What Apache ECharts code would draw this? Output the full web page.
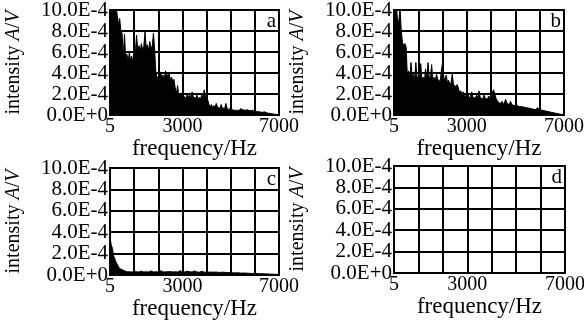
<!DOCTYPE html>
<html>
<head>
<meta charset="utf-8">
<script src="https://cdn.jsdelivr.net/npm/echarts@6/dist/echarts.min.js"></script>
<style>
  html, body { margin: 0; padding: 0; background: #fff; }
  #chart { width: 584px; height: 326px; }
</style>
</head>
<body>
<div id="chart"></div>
<script>
// spectra sampled every 50 Hz from 0 to 7000 Hz, intensity in units of 1E-4 V
var STEP = 50
var xTickLabels = { 0: '5', 3000: '3000', 7000: '7000' }
var panelLetters = ['a', 'b', 'c', 'd']

var spectrumA = [
  10.5, 10.5, 10.2, 10.5, 9.8, 10.3, 9.5, 8.6, 9.2, 8.0,
  7.8, 5.6, 7.7, 5.4, 5.8, 5.0, 6.0, 5.2, 5.6, 5.0,
  6.3, 6.0, 7.6, 6.2, 6.6, 6.0, 6.8, 6.2, 6.5, 7.9,
  6.4, 6.7, 6.1, 7.0, 6.3, 6.6, 7.8, 6.2, 4.0, 3.6,
  3.7, 3.5, 4.1, 3.6, 3.8, 3.4, 4.2, 3.6, 3.5, 4.1,
  3.3, 3.6, 3.2, 3.4, 2.6, 2.0, 2.8, 1.8, 2.0, 1.7,
  2.2, 1.8, 1.9, 1.6, 2.0, 1.7, 1.9, 1.6, 2.2, 1.7,
  1.8, 1.6, 1.9, 1.5, 1.7, 1.5, 2.0, 1.6, 2.4, 1.8,
  1.7, 1.4, 1.0, 0.8, 1.0, 0.7, 0.9, 0.7, 1.1, 0.8,
  0.9, 0.6, 1.0, 0.7, 0.8, 0.6, 1.1, 0.6, 0.7, 0.5,
  0.8, 0.5, 0.6, 0.45, 0.6, 0.45, 0.55, 0.4, 0.6, 0.45,
  0.5, 0.4, 0.45, 0.35, 0.5, 0.35, 0.4, 0.3, 0.45, 0.3,
  0.35, 0.28, 0.32, 0.25, 0.3, 0.22, 0.25, 0.2, 0.3, 0.18,
  0.2, 0.15, 0.16, 0.12, 0.12, 0.1, 0.08, 0.06, 0.05, 0.03,
  0.02
]

var spectrumB = [
  10.5, 10.3, 10.5, 8.8, 9.0, 10.2, 8.0, 6.9, 6.6, 6.8,
  6.5, 3.7, 4.2, 3.5, 5.0, 3.6, 3.9, 3.4, 5.0, 3.5,
  3.7, 3.3, 4.9, 3.4, 3.6, 3.2, 4.4, 3.3, 5.0, 3.6,
  3.4, 4.8, 3.3, 3.6, 3.2, 3.9, 3.4, 3.5, 3.2, 4.2,
  5.0, 3.6, 3.3, 3.8, 3.1, 3.3, 2.9, 3.1, 3.9, 2.9,
  3.0, 2.7, 2.9, 2.6, 2.1, 2.3, 2.0, 2.2, 1.9, 1.8,
  1.7, 1.9, 1.6, 1.8, 2.2, 1.7, 1.8, 1.6, 1.9, 1.6,
  2.3, 1.7, 1.8, 1.5, 1.9, 1.6, 1.7, 1.5, 1.8, 1.6,
  1.9, 2.0, 2.4, 2.0, 1.6, 1.4, 1.2, 1.3, 1.1, 1.3,
  1.0, 1.2, 1.5, 1.1, 1.2, 1.0, 1.3, 1.0, 1.1, 0.9,
  1.0, 0.9, 1.0, 0.8, 0.9, 0.8, 0.85, 0.75, 0.8, 0.7,
  0.75, 0.65, 0.7, 0.6, 0.65, 0.55, 0.6, 0.5, 0.7, 0.75,
  0.5, 0.45, 0.45, 0.4, 0.4, 0.35, 0.35, 0.3, 0.3, 0.28,
  0.25, 0.22, 0.2, 0.17, 0.15, 0.12, 0.1, 0.08, 0.06, 0.04,
  0.02
]

var spectrumC = [
  3.6, 2.8, 2.5, 1.8, 1.5, 1.2, 1.0, 0.8, 0.6, 0.7,
  0.5, 0.45, 0.4, 0.35, 0.3, 0.4, 0.3, 0.32, 0.28, 0.35,
  0.3, 0.45, 0.3, 0.32, 0.28, 0.3, 0.35, 0.3, 0.28, 0.4,
  0.3, 0.32, 0.28, 0.3, 0.38, 0.3, 0.28, 0.32, 0.3, 0.35,
  0.28, 0.3, 0.4, 0.3, 0.28, 0.32, 0.3, 0.45, 0.3, 0.28,
  0.32, 0.3, 0.28, 0.35, 0.3, 0.32, 0.28, 0.3, 0.4, 0.28,
  0.3, 0.32, 0.28, 0.3, 0.35, 0.28, 0.3, 0.32, 0.28, 0.3,
  0.38, 0.3, 0.28, 0.3, 0.26, 0.3, 0.35, 0.28, 0.26, 0.3,
  0.28, 0.3, 0.26, 0.25, 0.28, 0.3, 0.26, 0.24, 0.28, 0.25,
  0.24, 0.3, 0.25, 0.24, 0.26, 0.22, 0.24, 0.25, 0.22, 0.2,
  0.24, 0.22, 0.2, 0.22, 0.2, 0.18, 0.2, 0.22, 0.18, 0.2,
  0.18, 0.17, 0.18, 0.16, 0.17, 0.18, 0.15, 0.16, 0.15, 0.14,
  0.15, 0.14, 0.13, 0.14, 0.12, 0.13, 0.12, 0.12, 0.11, 0.1,
  0.1, 0.1, 0.09, 0.09, 0.08, 0.08, 0.07, 0.07, 0.06, 0.05,
  0.05
]

var spectrumD = []

var spectra = [spectrumA, spectrumB, spectrumC, spectrumD]

var grids = [
  { left: 110, top: 10, width: 169, height: 105 },
  { left: 394, top: 10, width: 170, height: 105 },
  { left: 110, top: 168, width: 169, height: 107 },
  { left: 394, top: 166, width: 171, height: 107 }
]

var font = 'Liberation Serif'
var chart = echarts.init(document.getElementById('chart'))

var option = {
  backgroundColor: '#fff',
  animation: false,
  textStyle: { fontFamily: font },
  grid: grids.map(function(g) {
    return Object.assign({ show: true, borderColor: '#000', borderWidth: 2, containLabel: false, outerBoundsMode: 'none' }, g)
  }),
  xAxis: grids.map(function(g, i) {
    return {
      type: 'value',
      gridIndex: i,
      min: 0,
      max: 7000,
      interval: 1000,
      name: 'frequency/Hz',
      nameLocation: 'middle',
      nameGap: 16,
      nameTextStyle: { color: '#000', fontFamily: font, fontSize: 23 },
      axisLine: { show: false },
      axisTick: { show: false },
      splitLine: { show: true, lineStyle: { color: '#000', width: 2 } },
      axisLabel: {
        color: '#000',
        fontFamily: font,
        fontSize: 20,
        margin: 2,
        showMinLabel: true,
        showMaxLabel: true,
        hideOverlap: false,
        formatter: function(v) { return xTickLabels[v] || '' }
      }
    }
  }),
  yAxis: grids.map(function(g, i) {
    return {
      type: 'value',
      gridIndex: i,
      min: 0,
      max: 10,
      interval: 2,
      name: '{n|intensity }{i|A}{n|/}{i|V}',
      nameLocation: 'middle',
      nameGap: 86,
      nameRotate: 90,
      nameTextStyle: {
        color: '#000',
        rich: {
          n: { fontFamily: font, fontSize: 20, color: '#000' },
          i: { fontFamily: font, fontSize: 20, fontStyle: 'italic', color: '#000' }
        }
      },
      axisLine: { show: false },
      axisTick: { show: false },
      splitLine: { show: true, lineStyle: { color: '#000', width: 2 } },
      axisLabel: {
        color: '#000',
        fontFamily: font,
        fontSize: 21,
        lineHeight: 18,
        margin: 2,
        showMinLabel: true,
        showMaxLabel: true,
        hideOverlap: false,
        formatter: function(v) { return v === 0 ? '0.0E+0' : v.toFixed(1) + 'E-4' }
      }
    }
  }),
  series: spectra.map(function(vals, i) {
    return {
      type: 'line',
      xAxisIndex: i,
      yAxisIndex: i,
      data: vals.map(function(v, k) { return [k * STEP, v] }),
      symbol: 'none',
      clip: true,
      lineStyle: { color: '#000', width: 1 },
      areaStyle: { color: '#000', opacity: 1 }
    }
  }),
  graphic: grids.map(function(g, i) {
    return {
      type: 'text',
      right: 584 - (g.left + g.width) + 3,
      top: g.top + 1,
      style: { text: panelLetters[i], fill: '#000', font: '21px "Liberation Serif"' }
    }
  })
}

chart.setOption(option)
</script>
</body>
</html>
